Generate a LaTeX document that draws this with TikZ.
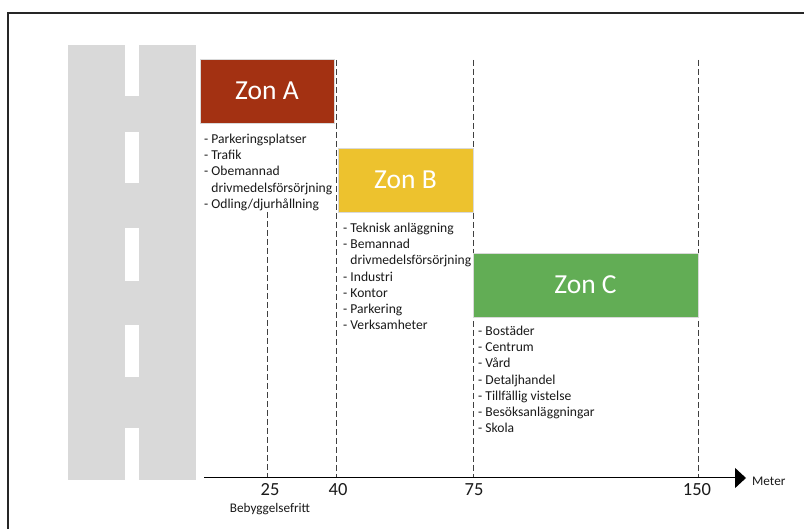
\documentclass[tikz,border=0pt]{standalone}
\usepackage{fontspec}
\setmainfont{Carlito}
\usetikzlibrary{arrows.meta}
\definecolor{zonA}{HTML}{A33112}
\definecolor{zonB}{HTML}{EDC22E}
\definecolor{zonC}{HTML}{62AD55}
\definecolor{road}{HTML}{D9D9D9}
\definecolor{txt}{HTML}{1A1A1A}
\newcommand\myzonelist[1]{\vtop{\baselineskip=16.2pt\lineskiplimit=-20pt #1}}
\tikzset{
  zonebox/.style={draw=black!15, line width=0.6pt, inner sep=0pt, text=white, font=\fontsize{27.5}{30}\selectfont},
  zonedash/.style={dash pattern=on 6pt off 3pt, line width=1pt, draw=black!75},
  listtxt/.style={anchor=base west, inner sep=0pt, text=txt, font=\fontsize{13.6}{16}\selectfont},
  tick/.style={inner sep=0pt, text=txt, font=\fontsize{18.5}{20}\selectfont},
  small/.style={inner sep=0pt, text=txt, font=\fontsize{13.2}{15}\selectfont},
  roaddash/.style={fill=white, draw=none}
}
\begin{document}
\begin{tikzpicture}[x=1pt,y=-1pt]
\useasboundingbox (0,0) rectangle (804,529);
\fill[white] (0,0) rectangle (804,529);
% frame
\draw[line width=1.8pt, black!85] (8,531) -- (8,13) -- (806,13);
% road
\fill[road] (68,45) rectangle (196,480);
\fill[roaddash] (125,45) rectangle (139,96);
\fill[roaddash] (125,132) rectangle (139,183);
\fill[roaddash] (125,228) rectangle (139,281);
\fill[roaddash] (125,325) rectangle (139,377);
\fill[roaddash] (125,428) rectangle (139,480);
% dashed guide lines
\coordinate (t25) at (267,212);
\coordinate (t40) at (336,60);
\coordinate (t75) at (473,60);
\coordinate (t150) at (698,60);
\coordinate (b25) at (267,478);
\coordinate (b40) at (336,478);
\coordinate (b75) at (473,478);
\coordinate (b150) at (698,478);
\draw[zonedash] (t25) -- (b25);
\draw[zonedash] (t40) -- (b40);
\draw[zonedash] (t75) -- (b75);
\draw[zonedash] (t150) -- (b150);
% zones
\node[zonebox, fill=zonA, minimum width=134pt, minimum height=64pt] (zA) at (267,91) {Zon A};
\node[zonebox, fill=zonB, minimum width=135pt, minimum height=64pt] (zB) at (405.5,180) {Zon B};
\node[zonebox, fill=zonC, minimum width=225pt, minimum height=64pt] (zC) at (585.5,285) {Zon C};
% lists
\node[listtxt] (lA) at (204,143.5) {\myzonelist{\hbox{- Parkeringsplatser}\hbox{- Trafik}\hbox{- Obemannad}\hbox{\phantom{- }drivmedelsförsörjning}\hbox{- Odling/djurhållning}}};
\node[listtxt] (lB) at (343,232.5) {\myzonelist{\hbox{- Teknisk anläggning}\hbox{- Bemannad}\hbox{\phantom{- }drivmedelsförsörjning}\hbox{- Industri}\hbox{- Kontor}\hbox{- Parkering}\hbox{- Verksamheter}}};
\node[listtxt] (lC) at (478,335.5) {\myzonelist{\hbox{- Bostäder}\hbox{- Centrum}\hbox{- Vård}\hbox{- Detaljhandel}\hbox{- Tillfällig vistelse}\hbox{- Besöksanläggningar}\hbox{- Skola}}};
% axis
\coordinate (ax0) at (204,478);
\coordinate (ax1) at (746,478);
\draw[line width=1pt, -{Triangle[width=20pt,length=11pt]}] (ax0) -- (ax1);
\node[tick] (n25) at (270,490) {25};
\node[tick] (n40) at (338,490) {40};
\node[tick] (n75) at (474,490) {75};
\node[tick] (n150) at (697,490) {150};
\node[small] (beb) at (270,509) {Bebyggelsefritt};
\node[small, anchor=west] (met) at (752,481) {Meter};
\end{tikzpicture}
\end{document}
